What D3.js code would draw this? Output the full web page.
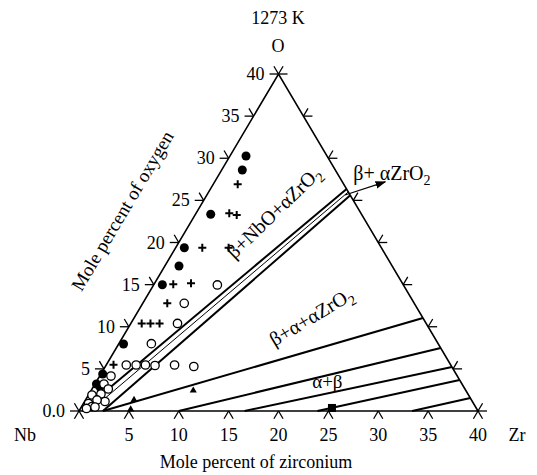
<!DOCTYPE html>
<html lang="en">
  <head>
    <meta charset="UTF-8" />
    <title>Nb-Zr-O 1273 K</title>
    <script src="https://d3js.org/d3.v7.min.js"></script>
    <style>
      body { margin: 0; background: #fff; }
      text { font-family: "Liberation Serif", "DejaVu Serif", serif; fill: #000; }
    </style>
  </head>
  <body>
    <svg width="537" height="475"></svg>
    <script>
      // ternary coordinates: [mole % Zr, mole % O]
      const tickValues = [0, 5, 10, 15, 20, 25, 30, 35, 40];
      const leftTickLabels = ["0.0", "5", "10", "15", "20", "25", "30", "35", "40"];
      const bottomTickLabels = ["", "5", "10", "15", "20", "25", "30", "35", "40"];

      const filledPts = [
        [1.61, 30.27], [2.07, 28.6], [1.53, 23.35], [0.87, 19.38], [1.42, 17.21],
        [0.86, 14.99], [0.49, 7.95], [0.18, 4.39], [0.15, 3.2], [0.68, 2.85]
      ];
      const plusPts = [
        [2.46, 26.9], [3.33, 23.47], [4.18, 23.26], [2.67, 19.38], [5.31, 19.38],
        [1.93, 15.04], [3.65, 15.16], [2.46, 12.78], [1.09, 10.39], [1.97, 10.39],
        [2.88, 10.39], [0.71, 5.5]
      ];
      const openPts = [
        [6.39, 14.96], [4.16, 12.78], [4.68, 10.39], [3.26, 7.99], [2.01, 5.46],
        [3.0, 5.46], [3.93, 5.46], [4.92, 5.4], [6.85, 5.46], [8.87, 5.28],
        [1.13, 4.15], [0.9, 3.2], [1.63, 2.61], [0.35, 1.9], [1.19, 2.02],
        [2.04, 1.13], [1.15, 1.31], [0.51, 0.89], [1.04, 0.53], [0.6, 0.3], [1.37, 0.47]
      ];
      const triPts = [[4.86, 1.31], [5.09, 0.18], [10.24, 2.43]];
      const squarePts = [[25.18, 0.36]];

      // phase boundaries and tie lines [z1, o1, z2, o2]
      const thickLines = [
        [0.3, 0, 13.65, 26.35],
        [2.4, 0, 14.4, 25.6],
        [2.4, 0, 28.96, 11.04],
        [10, 0, 32.52, 7.48],
        [16.6, 0, 34.78, 5.22],
        [23.9, 0, 36.32, 3.68],
        [33.4, 0, 38.46, 1.54]
      ];
      const thinLines = [[1.1, 0, 14.0, 26.0]];
      const arrowLine = [13.85, 25.64, 17.1, 27.2];

      const svg = d3.select("svg");

      const zScale = d3.scaleLinear().domain([0, 40]).range([79, 478]);
      const oScale = d3.scaleLinear().domain([0, 40]).range([411, 74]);
      const shear = d3.scaleLinear().domain([0, 40]).range([0, 199.5]);
      const px = (z, o) => zScale(z) + shear(o);
      const py = (z, o) => oScale(o);

      // unit directions of the left and right edges
      const eL = [px(0, 40) - px(0, 0), py(0, 40) - py(0, 0)];
      const nL = Math.hypot(eL[0], eL[1]);
      const uL = [eL[0] / nL, eL[1] / nL];
      const uR = [uL[0], -uL[1]];
      const tl = 9;

      const g = svg.append("g");

      // triangle
      g.append("path")
        .attr("d", d3.line()([[px(0, 0), py(0, 0)], [px(40, 0), py(40, 0)], [px(0, 40), py(0, 40)]]) + "Z")
        .attr("fill", "none").attr("stroke", "#000").attr("stroke-width", 1.6);

      // ticks
      const tickSegs = [];
      tickValues.forEach((t) => {
        let x = px(t, 0), y = py(t, 0);
        tickSegs.push([x, y, x - uL[0] * tl, y - uL[1] * tl], [x, y, x + uR[0] * tl, y + uR[1] * tl]);
        x = px(0, t); y = py(0, t);
        tickSegs.push([x, y, x - tl, y], [x, y, x - uR[0] * tl, y - uR[1] * tl]);
        x = px(40 - t, t); y = py(40 - t, t);
        tickSegs.push([x, y, x + tl, y], [x, y, x + uL[0] * tl, y + uL[1] * tl]);
      });
      g.selectAll(".tick").data(tickSegs).join("line")
        .attr("x1", (d) => d[0]).attr("y1", (d) => d[1])
        .attr("x2", (d) => d[2]).attr("y2", (d) => d[3])
        .attr("stroke", "#000").attr("stroke-width", 1.3);

      g.selectAll(".ltl").data(tickValues).join("text")
        .attr("x", (d) => px(0, d) - 14).attr("y", (d) => py(0, d) + 6)
        .attr("text-anchor", "end").attr("font-size", 18)
        .text((d, i) => leftTickLabels[i]);
      g.selectAll(".btl").data(tickValues).join("text")
        .attr("x", (d) => px(d, 0)).attr("y", 441)
        .attr("text-anchor", "middle").attr("font-size", 18)
        .text((d, i) => bottomTickLabels[i]);

      // lines
      const drawLines = (data, w) =>
        g.append("g").selectAll("line").data(data).join("line")
          .attr("x1", (d) => px(d[0], d[1])).attr("y1", (d) => py(d[0], d[1]))
          .attr("x2", (d) => px(d[2], d[3])).attr("y2", (d) => py(d[2], d[3]))
          .attr("stroke", "#000").attr("stroke-width", w);
      drawLines(thickLines, 2);
      drawLines(thinLines, 1);

      // arrow
      svg.append("defs").append("marker")
        .attr("id", "ah").attr("viewBox", "0 0 10 10").attr("refX", 9).attr("refY", 5)
        .attr("markerWidth", 9).attr("markerHeight", 9).attr("orient", "auto")
        .append("path").attr("d", "M0,1.5 L10,5 L0,8.5 Z").attr("fill", "#000");
      g.append("line")
        .attr("x1", px(arrowLine[0], arrowLine[1])).attr("y1", py(arrowLine[0], arrowLine[1]))
        .attr("x2", px(arrowLine[2], arrowLine[3])).attr("y2", py(arrowLine[2], arrowLine[3]))
        .attr("stroke", "#000").attr("stroke-width", 1.2).attr("marker-end", "url(#ah)");

      // markers
      g.selectAll(".fc").data(filledPts).join("circle")
        .attr("cx", (d) => px(d[0], d[1])).attr("cy", (d) => py(d[0], d[1]))
        .attr("r", 4.5).attr("fill", "#000");
      g.selectAll(".oc").data(openPts).join("circle")
        .attr("cx", (d) => px(d[0], d[1])).attr("cy", (d) => py(d[0], d[1]))
        .attr("r", 4.2).attr("fill", "#fff").attr("stroke", "#000").attr("stroke-width", 1.3);
      g.selectAll(".pl").data(plusPts).join("path")
        .attr("d", (d) => {
          const x = px(d[0], d[1]), y = py(d[0], d[1]);
          return `M${x - 4},${y}H${x + 4}M${x},${y - 4}V${y + 4}`;
        })
        .attr("stroke", "#000").attr("stroke-width", 2);
      g.selectAll(".tr").data(triPts).join("path")
        .attr("d", d3.symbol(d3.symbolTriangle, 22))
        .attr("transform", (d) => `translate(${px(d[0], d[1])},${py(d[0], d[1])})`)
        .attr("fill", "#000");
      g.selectAll(".sq").data(squarePts).join("rect")
        .attr("x", (d) => px(d[0], d[1]) - 4).attr("y", (d) => py(d[0], d[1]) - 4)
        .attr("width", 8).attr("height", 8).attr("fill", "#000");

      // region labels
      const sub2 = (sel) => sel.append("tspan").attr("font-size", 14).attr("dy", 5).text("2");

      let t = g.append("text").attr("font-size", 20).attr("text-anchor", "middle")
        .attr("transform", `translate(${px(8.5, 23.0)},${py(8.5, 23.0)}) rotate(-44)`);
      t.append("tspan").text("β+NbO+αZrO");
      sub2(t);

      t = g.append("text").attr("font-size", 20).attr("text-anchor", "middle")
        .attr("transform", `translate(${px(18.4, 10.5)},${py(18.4, 10.5)}) rotate(-31)`);
      t.append("tspan").text("β+α+αZrO");
      sub2(t);

      g.append("text").attr("font-size", 19).attr("text-anchor", "middle")
        .attr("x", px(23.2, 3.4)).attr("y", py(23.2, 3.4) + 6).text("α+β");

      t = g.append("text").attr("font-size", 20)
        .attr("x", px(13.8, 27.4)).attr("y", py(13.8, 27.4));
      t.append("tspan").text("β+ αZrO");
      sub2(t);

      // titles
      svg.append("text").attr("x", 278).attr("y", 24).attr("text-anchor", "middle")
        .attr("font-size", 18).text("1273 K");
      svg.append("text").attr("x", 278).attr("y", 52).attr("text-anchor", "middle")
        .attr("font-size", 18).text("O");
      svg.append("text").attr("x", 25).attr("y", 441).attr("text-anchor", "middle")
        .attr("font-size", 18).text("Nb");
      svg.append("text").attr("x", 517).attr("y", 441).attr("text-anchor", "middle")
        .attr("font-size", 18).text("Zr");
      svg.append("text").attr("x", 256).attr("y", 468).attr("text-anchor", "middle")
        .attr("font-size", 18).text("Mole percent of zirconium");
      svg.append("text").attr("font-size", 19).attr("text-anchor", "middle")
        .attr("transform", "translate(128,214) rotate(-59.3)")
        .text("Mole percent of oxygen");
    </script>
  </body>
</html>
